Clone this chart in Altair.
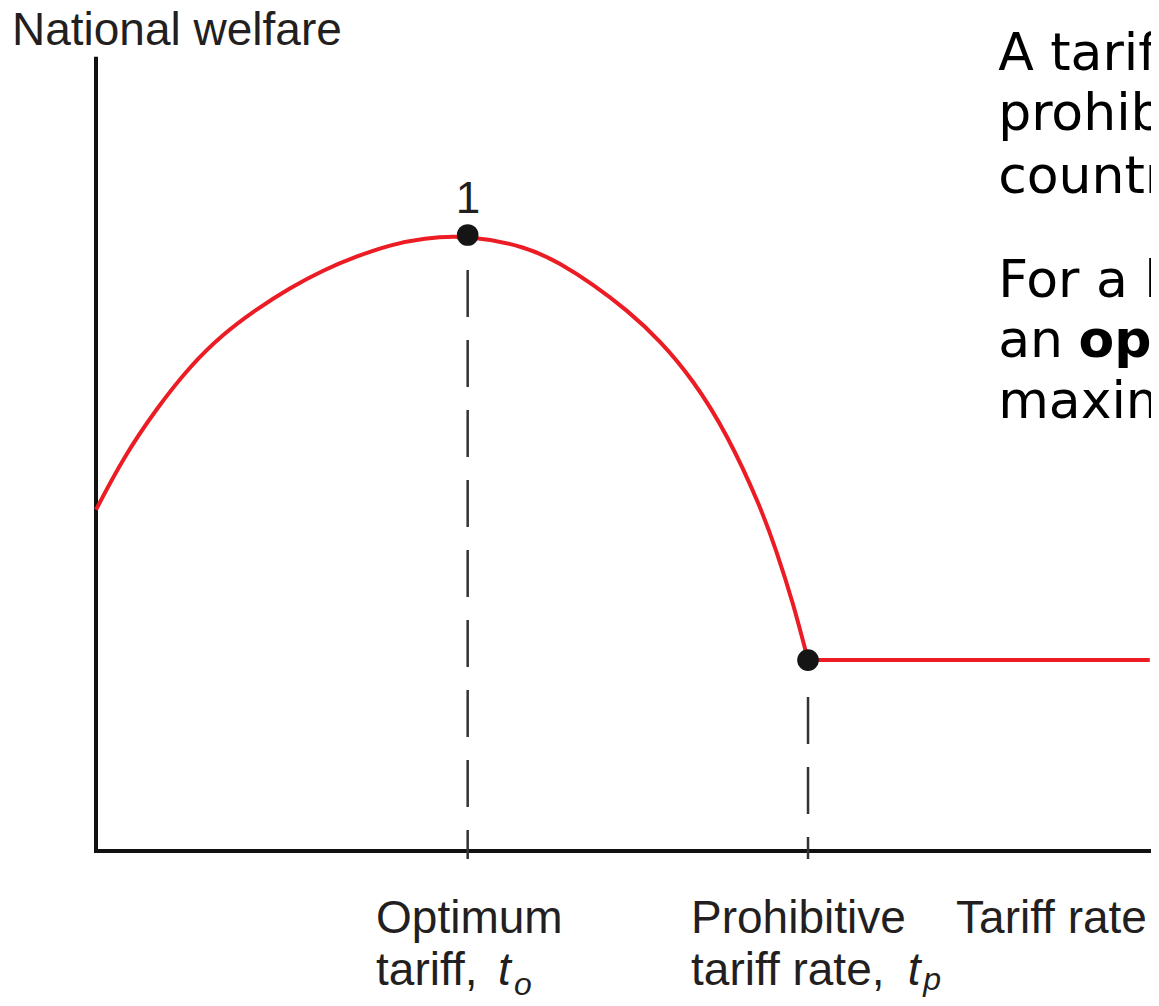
import altair as alt
import pandas as pd

# ---- data (arbitrary units: tariff rate, national welfare) ----
curve_tariff = [0, 3.8, 8.6, 13.2, 17.8, 22.6, 27.2, 31.9, 36.7, 41.3, 45.9, 52.2,
                60.5, 65.2, 69.8, 74.6, 79.2, 83.8, 88.6, 93.3, 95.6, 97.9, 100]
curve_welfare = [55.4, 63.8, 72.0, 78.7, 83.9, 88.0, 91.4, 94.3, 96.6, 98.4, 99.5, 100,
                 98.1, 95.4, 92.0, 87.8, 82.9, 76.6, 67.8, 56.0, 48.6, 40.3, 31.0]
flat_tariff = [100, 148.0]
flat_welfare = [31.0, 31.0]

point_tariff = [52.2, 100]          # optimum tariff t_o, prohibitive rate t_p
point_welfare = [100, 31.0]

drop_top = [94.3, 25.0]
drop_bottom = [-1.3, -1.3]

axis_x = [0, 0]
axis_y = [128.6, 0]
axis_x2 = [0, 148.17]
axis_y2 = [0, 0]

# axis / tick labels
label_text = ["National welfare", "Optimum", "tariff,", "Prohibitive", "tariff rate,", "Tariff rate"]
label_x = [-11.80, 39.33, 39.33, 83.57, 83.57, 120.79]
label_y = [130.8, -13.31, -21.75, -13.31, -21.75, -13.31]

ital_text = ["t", "t"]
ital_x = [56.46, 114.0]
ital_y = [-21.75, -21.75]
sub_text = ["o", "p"]
sub_x = [58.7, 116.2]
sub_y = [-23.4, -22.5]

num_text = ["1"]
num_x = [52.25]
num_y = [103.6]

# side text (cut off at the right edge in the reference)
side_text = ["A tariff rate that completely", "prohibits imports leaves a", "country worse off.",
             "For a large country, there is", "an ", "maximizes national welfare."]
side_x = [126.7] * 6
side_y = [126.8, 117.0, 106.8, 89.9, 80.2, 70.3]
bold_text = ["optimum tariff that"]
bold_x = [138.0]
bold_y = [80.2]

XS = alt.Scale(domain=[-12.36, 148.17], nice=False, zero=False)
YS = alt.Scale(domain=[-23.86, 136.85], nice=False, zero=False)


def X(f):
    return alt.X(f, type="quantitative", scale=XS, axis=None)


def Y(f):
    return alt.Y(f, type="quantitative", scale=YS, axis=None)


axes = alt.Chart(pd.DataFrame({"x": axis_x, "y": axis_y, "x2": axis_x2, "y2": axis_y2})).mark_rule(
    color="#111111", strokeWidth=4, strokeCap="square"
).encode(x=X("x"), y=Y("y"), x2="x2", y2="y2")

curve = alt.Chart(pd.DataFrame({"t": curve_tariff, "w": curve_welfare})).mark_line(
    color="#ec1c24", strokeWidth=4, interpolate="basis"
).encode(x=X("t"), y=Y("w"))

flat = alt.Chart(pd.DataFrame({"t": flat_tariff, "w": flat_welfare})).mark_line(
    color="#ec1c24", strokeWidth=4
).encode(x=X("t"), y=Y("w"))

drops = alt.Chart(pd.DataFrame({"t": point_tariff, "top": drop_top, "bot": drop_bottom})).mark_rule(
    color="#333333", strokeWidth=2.5, strokeDash=[47, 23]
).encode(x=X("t"), y=Y("top"), y2="bot")

dots = alt.Chart(pd.DataFrame({"t": point_tariff, "w": point_welfare})).mark_circle(
    size=470, color="#151515", opacity=1
).encode(x=X("t"), y=Y("w"))


def text_layer(xs, ys, texts, **style):
    df = pd.DataFrame({"x": xs, "y": ys, "text": texts})
    return alt.Chart(df).mark_text(baseline="alphabetic", **style).encode(
        x=X("x"), y=Y("y"), text="text:N"
    )


labels = text_layer(label_x, label_y, label_text, font="Liberation Sans", fontSize=46,
                    align="left", color="#231f20")
itals = text_layer(ital_x, ital_y, ital_text, font="Liberation Sans", fontSize=46,
                   fontStyle="italic", align="left", color="#231f20")
subs = text_layer(sub_x, sub_y, sub_text, font="Liberation Sans", fontSize=32,
                  fontStyle="italic", align="left", color="#231f20")
num = text_layer(num_x, num_y, num_text, font="Liberation Sans", fontSize=44,
                 align="center", color="#231f20")
side = text_layer(side_x, side_y, side_text, font="DejaVu Sans", fontSize=52,
                  align="left", color="#000000")
bold = text_layer(bold_x, bold_y, bold_text, font="DejaVu Sans", fontSize=52,
                  fontWeight="bold", align="left", color="#000000")

chart = alt.layer(axes, curve, flat, drops, dots, labels, itals, subs, num, side, bold).properties(
    width=1143, height=990, autosize=alt.AutoSizeParams(type="none"), padding=0,
    background="white"
).configure_view(strokeWidth=0)

chart.save("out.html", embed_options={"renderer": "svg", "actions": False})
